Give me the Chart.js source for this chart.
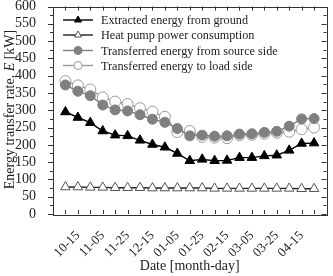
<!DOCTYPE html>
<html>
<head>
<meta charset="utf-8">
<script src="https://cdn.jsdelivr.net/npm/chart.js@4"></script>
<style>
  html, body { margin: 0; padding: 0; background: #fff; }
  canvas { display: block; }
</style>
</head>
<body>
<canvas id="chart" width="333" height="276"></canvas>
<script>
// data (kW), one point every 10 days
const dates = ["10-05", "10-15", "10-25", "11-05", "11-15", "11-25", "12-05", "12-15", "12-25", "01-05", "01-15",
               "01-25", "02-05", "02-15", "02-25", "03-05", "03-15", "03-25", "04-05", "04-15", "04-25"];

const extracted  = [295, 279, 264, 240, 228, 226, 213, 201, 193, 175, 154, 158, 154, 155, 163, 163, 168, 170, 184, 204, 205];
const heatPump   = [78, 78, 77, 77, 76, 76, 76, 75, 75, 75, 75, 75, 74, 74, 74, 74, 74, 74, 74, 73, 73];
const sourceSide = [373, 355, 342, 315, 301, 298, 287, 274, 265, 247, 226, 228, 225, 226, 231, 232, 236, 239, 254, 275, 276];
const loadSide   = [384, 372, 360, 337, 325, 318, 306, 296, 281, 237, 240, 223, 221, 219, 228, 229, 232, 235, 238, 245, 250];

const seriesNames = [
  "Extracted energy from ground",
  "Heat pump power consumption",
  "Transferred energy from source side",
  "Transferred energy to load side"
];

const yTicks = [0, 600, 50];   // min, max, step

const SERIF = '"Liberation Serif", "Times New Roman", serif';

function points(values) {
  return values.map((v, i) => ({ x: i, y: v }));
}

const styles = [
  { line: "#000", fill: "#000", stroke: "#000", shape: "triangle", r: 5.5 },
  { line: "#222", fill: "#fff", stroke: "#555", shape: "triangle", r: 5.5 },
  { line: "#808080", fill: "#808080", stroke: "#808080", shape: "circle", r: 5 },
  { line: "#9a9a9a", fill: "#fff", stroke: "#9a9a9a", shape: "circle", r: 5.5 }
];

const allSeries = [extracted, heatPump, sourceSide, loadSide];

const datasets = allSeries.map((values, k) => ({
  label: seriesNames[k],
  data: points(values),
  borderColor: styles[k].line,
  borderWidth: 1.4,
  pointStyle: styles[k].shape,
  pointRadius: styles[k].r,
  pointBackgroundColor: styles[k].fill,
  pointBorderColor: styles[k].stroke,
  pointBorderWidth: 1,
  tension: 0,
  order: k
}));

// frame, inner/outer ticks, legend and y title like the Origin plot
const decorations = {
  id: "decorations",
  beforeDatasetsDraw(chart) {
    const ctx = chart.ctx;
    const a = chart.chartArea;
    const xs = chart.scales.x;
    const ys = chart.scales.y;
    ctx.save();
    ctx.strokeStyle = "#333";
    ctx.lineWidth = 1;
    ctx.strokeRect(Math.round(a.left) + 0.5, Math.round(a.top) + 0.5,
                   Math.round(a.right - a.left), Math.round(a.bottom - a.top));
    ctx.beginPath();
    for (let v = yTicks[0]; v <= yTicks[1]; v += yTicks[2] / 2) {
      const y = Math.round(ys.getPixelForValue(v)) + 0.5;
      const len = (v % yTicks[2] === 0) ? 5 : 3;
      ctx.moveTo(a.left - len, y); ctx.lineTo(a.left, y);
      ctx.moveTo(a.right - len, y); ctx.lineTo(a.right, y);
    }
    for (let i = 0; i < dates.length; i++) {
      const x = Math.round(xs.getPixelForValue(i)) + 0.5;
      ctx.moveTo(x, a.bottom); ctx.lineTo(x, a.bottom - 4);
      ctx.moveTo(x, a.top); ctx.lineTo(x, a.top + 4);
    }
    ctx.stroke();
    ctx.restore();
  },
  afterDraw(chart) {
    const ctx = chart.ctx;
    ctx.save();
    // legend
    const rows = [20, 35, 50.5, 65.5];
    seriesNames.forEach((name, k) => {
      const y = rows[k];
      ctx.strokeStyle = styles[k].line;
      ctx.lineWidth = 1.4;
      ctx.beginPath();
      ctx.moveTo(63, y); ctx.lineTo(93, y);
      ctx.stroke();
      ctx.fillStyle = styles[k].fill;
      ctx.strokeStyle = styles[k].stroke;
      ctx.lineWidth = 1;
      Chart.helpers.drawPoint(ctx, { pointStyle: styles[k].shape, radius: 4, rotation: 0, borderWidth: 1 }, 78, y);
      ctx.fillStyle = "#222";
      ctx.font = "12.2px " + SERIF;
      ctx.textBaseline = "middle";
      ctx.textAlign = "left";
      ctx.fillText(name, 101, y + 1);
    });
    // y title with italic E
    const parts = [["Energy transfer rate, ", ""], ["E", "italic "], [" [kW]", ""]];
    ctx.translate(10, 109.5);
    ctx.rotate(-Math.PI / 2);
    let total = 0;
    parts.forEach(p => { ctx.font = p[1] + "14px " + SERIF; total += ctx.measureText(p[0]).width; });
    let x = -total / 2;
    ctx.fillStyle = "#222";
    ctx.textBaseline = "middle";
    ctx.textAlign = "left";
    parts.forEach(p => {
      ctx.font = p[1] + "14px " + SERIF;
      ctx.fillText(p[0], x, 0);
      x += ctx.measureText(p[0]).width;
    });
    ctx.restore();
  }
};

new Chart(document.getElementById("chart"), {
  type: "line",
  data: { datasets: datasets },
  options: {
    responsive: false,
    animation: false,
    devicePixelRatio: 1,
    layout: { padding: { left: 0, right: 6, top: 5, bottom: 0 } },
    plugins: { legend: { display: false }, tooltip: { enabled: false } },
    scales: {
      x: {
        type: "linear",
        min: -1,
        max: dates.length,
        afterFit: s => { s.height = 62; s.paddingLeft = 0; s.paddingRight = 0; },
        grid: { display: false },
        border: { display: false },
        ticks: {
          stepSize: 1,
          autoSkip: false,
          minRotation: 45,
          maxRotation: 45,
          padding: 6,
          color: "#222",
          font: { family: SERIF, size: 13 },
          callback: v => (v >= 0 && v < dates.length && v % 2 === 1) ? dates[v] : ""
        },
        title: {
          display: true,
          text: "Date [month-day]",
          color: "#222",
          font: { family: SERIF, size: 14 },
          padding: { top: 0, bottom: 1 }
        }
      },
      y: {
        min: yTicks[0],
        max: yTicks[1],
        afterFit: s => { s.width = 53; s.paddingTop = 0; s.paddingBottom = 0; },
        grid: { display: false },
        border: { display: false },
        ticks: {
          stepSize: yTicks[2],
          autoSkip: false,
          padding: 9,
          color: "#222",
          font: { family: SERIF, size: 14 }
        }
      }
    }
  },
  plugins: [decorations]
});
</script>
</body>
</html>
